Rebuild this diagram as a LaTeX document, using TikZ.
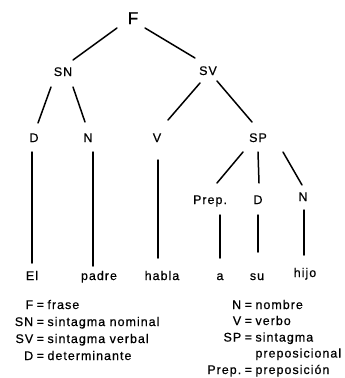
\documentclass[tikz,border=0pt]{standalone}
\usepackage{fontspec}
\setmainfont{Liberation Sans}[LetterSpace=8, FakeBold=0.6]
\newcommand\lrow[3]{\makebox[#1][r]{#2}\hspace{3.5pt}=\hspace{3.5pt}#3}
\begin{document}
\begin{tikzpicture}[x=1pt,y=-1pt,
  lab/.style={inner sep=0pt, anchor=base, font=\fontsize{12.5}{14}\selectfont},
  leg/.style={inner sep=0pt, anchor=base west, font=\fontsize{12.5}{14}\selectfont},
  edge/.style={line width=1.5pt, line cap=round}]
\useasboundingbox (0,0) rectangle (345,378);
% tree labels
\node[lab, font=\fontsize{17}{20}\selectfont] (F) at (133,24) {F};
\node[lab] (SN) at (63,76) {SN};
\node[lab] (SV) at (208,75) {SV};
\node[lab] (D1) at (34,142) {D};
\node[lab] (N1) at (88,142) {N};
\node[lab] (V) at (157,142) {V};
\node[lab] (SP) at (258,142) {SP};
\node[lab] (Prep) at (210,204) {Prep.};
\node[lab] (D2) at (258,204) {D};
\node[lab] (N2) at (303,201) {N};
\node[lab] (El) at (32,280) {El};
\node[lab] (padre) at (99,280) {padre};
\node[lab] (habla) at (162,280) {habla};
\node[lab] (a) at (220,280) {a};
\node[lab] (su) at (257,280) {su};
\node[lab] (hijo) at (305,277) {hijo};
% connectors
\draw[edge] ([shift={(-16,4)}]F.base) -- ([shift={(10,-16)}]SN.base);
\draw[edge] ([shift={(12,4)}]F.base) -- ([shift={(-13,-17)}]SV.base);
\draw[edge] ([shift={(-12,11)}]SN.base) -- ([shift={(4,-19)}]D1.base);
\draw[edge] ([shift={(10,11)}]SN.base) -- ([shift={(-3,-20)}]N1.base);
\draw[edge] ([shift={(-8,8)}]SV.base) -- ([shift={(11,-22)}]V.base);
\draw[edge] ([shift={(9,6)}]SV.base) -- ([shift={(-6,-20)}]SP.base);
\draw[edge] ([shift={(-15,10)}]SP.base) -- ([shift={(7,-21)}]Prep.base);
\draw[edge] ([shift={(0,10)}]SP.base) -- ([shift={(1,-21)}]D2.base);
\draw[edge] ([shift={(25,10)}]SP.base) -- ([shift={(-1,-16)}]N2.base);
\draw[edge] ([shift={(-2,10)}]D1.base) -- ([shift={(0,-17)}]El.base);
\draw[edge] ([shift={(5,10)}]N1.base) -- ([shift={(-6,-14)}]padre.base);
\draw[edge] ([shift={(1,18)}]V.base) -- ([shift={(-4,-22)}]habla.base);
\draw[edge] ([shift={(10,11)}]Prep.base) -- ([shift={(0,-22)}]a.base);
\draw[edge] ([shift={(0,11)}]D2.base) -- ([shift={(1,-28)}]su.base);
\draw[edge] ([shift={(1,9)}]N2.base) -- ([shift={(-1,-22)}]hijo.base);
% legend left
\node[leg] (lF) at (11,309) {\lrow{22pt}{F}{frase}};
\node[leg] (lSN) at (11,326) {\lrow{22pt}{SN}{sintagma nominal}};
\node[leg] (lSV) at (11,343) {\lrow{22pt}{SV}{sintagma verbal}};
\node[leg] (lD) at (11,360) {\lrow{22pt}{D}{determinante}};
% legend right
\node[leg] (rN) at (201,309) {\lrow{40pt}{N}{nombre}};
\node[leg] (rV) at (201,325) {\lrow{40pt}{V}{verbo}};
\node[leg] (rSP) at (201,341.5) {\lrow{40pt}{SP}{sintagma}};
\node[leg] (rSP2) at (201,357.5) {\makebox[40pt]{}\hspace{3.5pt}\phantom{=}\hspace{3.5pt}preposicional};
\node[leg] (rPrep) at (201,374) {\lrow{40pt}{Prep.}{preposición}};
\end{tikzpicture}
\end{document}
